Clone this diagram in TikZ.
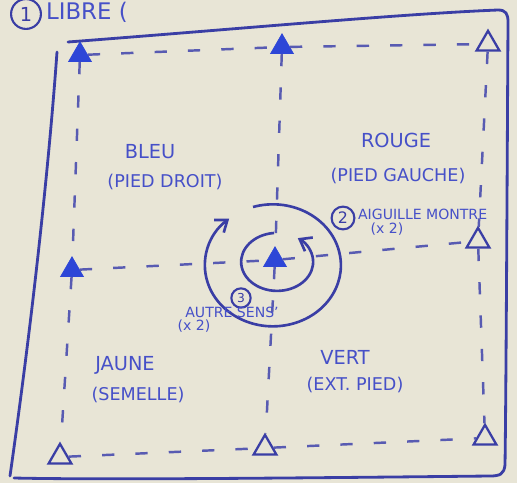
\documentclass[tikz,border=0pt]{standalone}
\usepackage{fontspec}
\setmainfont{DejaVu Sans}
\usetikzlibrary{shapes.geometric,arrows.meta}
\definecolor{board}{RGB}{232,229,214}
\definecolor{ink}{RGB}{58,62,165}
\definecolor{txt}{RGB}{70,80,200}
\definecolor{tri}{RGB}{45,70,215}
\tikzset{
  frame/.style={draw=ink, line width=1.6pt, line cap=round},
  grid/.style={draw=ink!85, line width=1.4pt, dash pattern=on 7pt off 12pt},
  ftri/.style={regular polygon, regular polygon sides=3, fill=tri, draw=tri, minimum size=15pt, inner sep=0pt},
  otri/.style={regular polygon, regular polygon sides=3, fill=board, draw=ink, line width=1.3pt, minimum size=15pt, inner sep=0pt},
  lbl/.style={text=txt, font=\fontsize{11}{13}\selectfont, align=center, inner sep=1pt},
  small/.style={text=txt, font=\fontsize{8}{9}\selectfont, align=center, inner sep=1pt},
  num/.style={circle, draw=ink, line width=1.2pt, text=ink, font=\fontsize{9}{9}\selectfont, inner sep=1pt, minimum size=13pt},
  rot/.style={draw=ink, line width=1.5pt, -{Straight Barb[length=6pt,width=9pt]}}
}
\begin{document}
\begin{tikzpicture}[x=0.02cm, y=-0.02cm]
\useasboundingbox (0,0) rectangle (517,483);
\fill[board] (0,0) rectangle (517,483);

% outer frame
\draw[frame] (68,42) .. controls (250,28) and (400,14) .. (498,10) .. controls (506,10) and (508,14) .. (508,22)
  .. controls (507,200) and (506,400) .. (505,465) .. controls (504,474) and (500,476) .. (490,476)
  .. controls (300,478) and (100,480) .. (14,478);
\draw[frame] (57,52) .. controls (50,150) and (35,300) .. (10,476);

% title
\node[num, minimum size=17pt, font=\fontsize{11}{11}\selectfont] (n1) at (26,14) {1};
\node[lbl, anchor=west, font=\fontsize{13}{13}\selectfont] (libre) at (44,12) {LIBRE (};

% triangles
\node[ftri] (tl) at (80,55) {};
\node[ftri] (tm) at (282,47) {};
\node[otri] (tr) at (488,44) {};
\node[ftri] (ml) at (72,270) {};
\node[ftri] (c) at (275,260) {};
\node[otri] (mr) at (478,241) {};
\node[otri] (bl) at (60,457) {};
\node[otri] (bm) at (265,448) {};
\node[otri] (br) at (485,438) {};

% dashed grid
\draw[grid] (tl) -- (tm);
\draw[grid] (tm) -- (tr);
\draw[grid] (tl) -- (ml);
\draw[grid] (ml) -- (bl);
\draw[grid] (bl) -- (bm);
\draw[grid] (bm) -- (br);
\draw[grid] (tr) -- (mr);
\draw[grid] (mr) -- (br);
\draw[grid] (ml) -- (c);
\draw[grid] (c) -- (mr);
\draw[grid] (tm) -- (c);
\draw[grid] (c) -- (bm);

% rotations
\coordinate (ia) at (274,233);
\draw[rot] (ia) arc[start angle=265, end angle=-55, x radius=36, y radius=29];
\coordinate (oa) at (253,207);
\draw[rot] (oa) arc[start angle=253, end angle=590, x radius=68, y radius=61];

% labels
\node[lbl] (bleu) at (150,152) {BLEU};
\node[small, font=\fontsize{10}{12}\selectfont] (bleu2) at (165,182) {(PIED DROIT)};
\node[lbl] (rouge) at (396,140) {ROUGE};
\node[small, font=\fontsize{10}{12}\selectfont] (rouge2) at (398,176) {(PIED GAUCHE)};
\node[num] (n2) at (343,218) {2};
\node[small, anchor=west] (aig) at (356,214) {AIGUILLE MONTRE};
\node[small] (aig2) at (387,229) {(x 2)};
\node[num, minimum size=11pt, font=\fontsize{7}{7}\selectfont] (n3) at (241,298) {3};
\node[small] (autre) at (232,312) {AUTRE SENS'};
\node[small] (autre2) at (194,326) {(x 2)};
\node[lbl] (jaune) at (125,365) {JAUNE};
\node[small, font=\fontsize{10}{12}\selectfont] (jaune2) at (138,395) {(SEMELLE)};
\node[lbl] (vert) at (345,357) {VERT};
\node[small, font=\fontsize{10}{12}\selectfont] (vert2) at (355,385) {(EXT. PIED)};
\end{tikzpicture}
\end{document}
